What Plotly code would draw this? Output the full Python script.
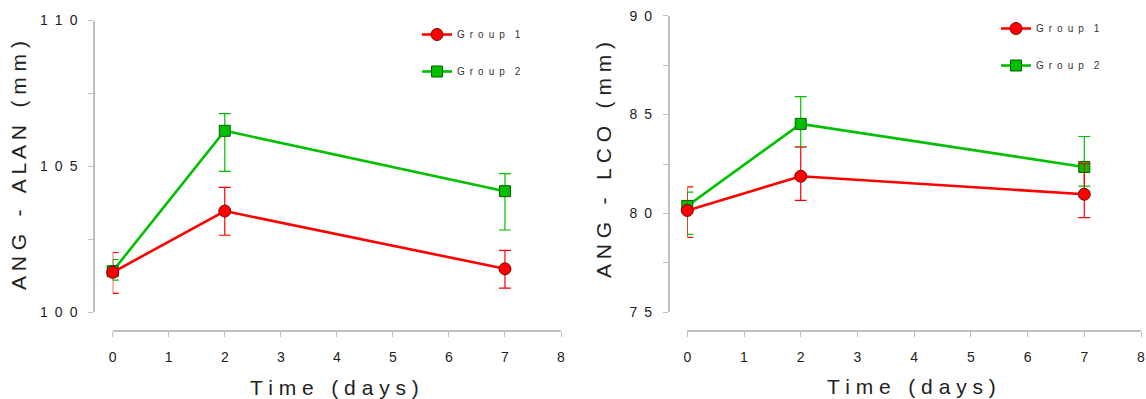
import plotly.graph_objects as go

# ---------------- data ----------------
days = [0, 2, 7]

# Left panel: ANG - ALAN (mm)
alan_g1 = [101.37, 103.47, 101.49]
alan_g1_up = [0.68, 0.81, 0.63]
alan_g1_dn = [0.72, 0.83, 0.66]
alan_g2 = [101.41, 106.22, 104.15]
alan_g2_up = [0.40, 0.59, 0.60]
alan_g2_dn = [0.31, 1.39, 1.33]

# Right panel: ANG - LCO (mm)
lco_g1 = [80.15, 81.88, 80.97]
lco_g1_up = [1.19, 1.48, 1.55]
lco_g1_dn = [1.36, 1.22, 1.18]
lco_g2 = [80.38, 84.53, 82.35]
lco_g2_up = [0.70, 1.38, 1.54]
lco_g2_dn = [1.44, 1.17, 0.97]

group_names = ["G\u2002r\u2002o\u2002u\u2002p\u2002\u20021", "G\u2002r\u2002o\u2002u\u2002p\u2002\u20022"]

x_ticks = [0, 1, 2, 3, 4, 5, 6, 7, 8]
x_ticktext = ["0", "1", "2", "3", "4", "5", "6", "7", "8"]
alan_ticks = [100, 102.5, 105, 107.5, 110]
alan_ticktext = ["1\u20020\u20020", "", "1\u20020\u20025", "", "1\u20021\u20020"]
lco_ticks = [75, 77.5, 80, 82.5, 85, 87.5, 90]
lco_ticktext = ["7\u20025", "", "8\u20020", "", "8\u20025", "", "9\u20020"]

x_title = "T i m e   ( d a y s )"
alan_title = "A N G   -   A L A N   ( m m )"
lco_title = "A N G   -   L C O   ( m m )"

# ---------------- styling ----------------
W, H = 1146, 399
RED = "#ff0000"
GREEN = "#00c000"
FONT = "Liberation Sans, Arial, sans-serif"
AXCOL = "#c0c0c0"

def px(x):
    return x / W

def py(y):
    return 1 - y / H

fig = go.Figure()

def add_series(xa, ya, vals, up, dn, name, color, symbol, edge, msize, legend, rank):
    fig.add_trace(go.Scatter(
        x=days, y=vals, xaxis=xa, yaxis=ya, name=name, mode="lines+markers",
        line=dict(color=color, width=2.6),
        marker=dict(symbol=symbol, size=msize, color=color, line=dict(color=edge, width=1)),
        error_y=dict(type="data", symmetric=False, array=up, arrayminus=dn,
                     color=color, thickness=1.2, width=6),
        cliponaxis=False, legend=legend, legendgroup=name + legend, legendrank=rank,
    ))

add_series("x", "y", alan_g2, alan_g2_up, alan_g2_dn, group_names[1], GREEN, "square", "#006000", 11, "legend", 2)
add_series("x", "y", alan_g1, alan_g1_up, alan_g1_dn, group_names[0], RED, "circle", "#800000", 12, "legend", 1)
add_series("x2", "y2", lco_g2, lco_g2_up, lco_g2_dn, group_names[1], GREEN, "square", "#006000", 11, "legend2", 2)
add_series("x2", "y2", lco_g1, lco_g1_up, lco_g1_dn, group_names[0], RED, "circle", "#800000", 12, "legend2", 1)

tickfont = dict(family=FONT, size=14, color="#222222")

def xaxis_cfg(d0, d1):
    return dict(domain=[px(d0), px(d1)], range=[0, 8], anchor="free", position=py(331),
                tickmode="array", tickvals=x_ticks, ticktext=x_ticktext,
                showline=True, linecolor=AXCOL, linewidth=1.5, ticks="outside",
                ticklen=5, tickcolor=AXCOL, tickwidth=1.2, showgrid=False, zeroline=False,
                tickfont=tickfont, ticklabelstandoff=8, automargin=False)

def yaxis_cfg(d_top, d_bot, rng, tv, tt, pos):
    return dict(domain=[py(d_bot), py(d_top)], range=rng, anchor="free", position=px(pos),
                tickmode="array", tickvals=tv, ticktext=tt,
                showline=True, linecolor=AXCOL, linewidth=1.5, ticks="outside",
                ticklen=5, tickcolor=AXCOL, tickwidth=1.2, showgrid=False, zeroline=False,
                tickfont=tickfont, ticklabelstandoff=8, automargin=False)

legfont = dict(family=FONT, size=10, color="#333333")

fig.update_layout(
    width=W, height=H, margin=dict(l=0, r=0, t=0, b=0, autoexpand=False),
    plot_bgcolor="white", paper_bgcolor="white",
    xaxis=xaxis_cfg(112.7, 561),
    yaxis=yaxis_cfg(20.5, 312.3, [100, 110], alan_ticks, alan_ticktext, 94),
    xaxis2=xaxis_cfg(687.3, 1141),
    yaxis2=yaxis_cfg(15.7, 312.3, [75, 90], lco_ticks, lco_ticktext, 668.7),
    legend=dict(x=px(417), y=py(20), xanchor="left", yanchor="top", font=legfont,
                itemwidth=30, tracegroupgap=18, traceorder="grouped", bgcolor="rgba(0,0,0,0)"),
    legend2=dict(x=px(996), y=py(14), xanchor="left", yanchor="top", font=legfont,
                 itemwidth=30, tracegroupgap=18, traceorder="grouped", bgcolor="rgba(0,0,0,0)"),
    showlegend=True,
)

titlefont = dict(family=FONT, size=21, color="#222222")
ann = [
    dict(text=x_title, x=px(334), y=py(387), xanchor="center", yanchor="middle"),
    dict(text=x_title, x=px(911), y=py(386), xanchor="center", yanchor="middle"),
    dict(text=alan_title, x=px(18), y=py(166), xanchor="center", yanchor="middle", textangle=-90),
    dict(text=lco_title, x=px(603), y=py(160), xanchor="center", yanchor="middle", textangle=-90),
]
for a in ann:
    a.update(xref="paper", yref="paper", showarrow=False, font=titlefont)
fig.update_layout(annotations=ann)

fig.write_html("out.html", post_script="document.body.style.margin='0';",
               config={"displayModeBar": False})
